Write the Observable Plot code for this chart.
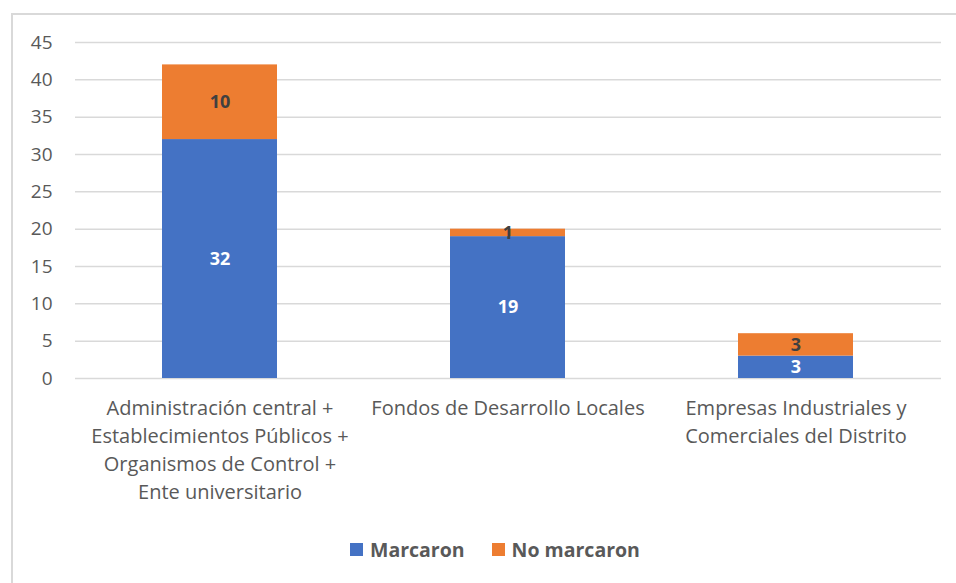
<!DOCTYPE html>
<html><head><meta charset="utf-8">
<script src="https://cdn.jsdelivr.net/npm/d3@7"></script>
<script src="https://cdn.jsdelivr.net/npm/@observablehq/plot@0.6"></script>
<style>
body{margin:0;background:#fff;}
#wrap{position:relative;width:956px;height:583px;overflow:hidden;font-family:"Open Sans",Lato,sans-serif;background:#fff;}
#frame{position:absolute;left:11px;top:13px;width:990px;height:620px;border-top:2px solid #d9d9d9;border-left:2px solid #d9d9d9;pointer-events:none;}
#chart{position:absolute;left:0;top:0;}
#legend{position:absolute;left:350px;top:536px;display:flex;align-items:center;font-weight:bold;font-size:19.5px;color:#595959;}
.sw{display:inline-block;width:13px;height:13px;margin-right:7px;}
.item{display:flex;align-items:center;margin-right:27px;}
</style>
</head><body>
<div id="wrap"><div id="frame"></div><div id="chart"></div><div id="legend"></div></div>
<script>
const categories = ["Administración central + Establecimientos Públicos + Organismos de Control + Ente universitario", "Fondos de Desarrollo Locales", "Empresas Industriales y Comerciales del Distrito"];
const categoryLabels = ["Administración central +\nEstablecimientos Públicos +\nOrganismos de Control +\nEnte universitario", "Fondos de Desarrollo Locales", "Empresas Industriales y\nComerciales del Distrito"];
const series = ["Marcaron", "No marcaron"];
const marcaron = [32, 19, 3];
const noMarcaron = [10, 1, 3];
const yTicks = [0, 5, 10, 15, 20, 25, 30, 35, 40, 45];
const colors = ["#4472c4", "#ed7d31"];
const labelColors = ["#ffffff", "#404040"];

const data = categories.flatMap((c, i) => [
  {cat: c, serie: series[0], value: marcaron[i]},
  {cat: c, serie: series[1], value: noMarcaron[i]}
]);
const labelOf = new Map(categories.map((c, i) => [c, categoryLabels[i]]));
const font = "'Open Sans', Lato, sans-serif";

const chart = Plot.plot({
  width: 956, height: 520,
  marginTop: 42, marginBottom: 142, marginLeft: 75, marginRight: 15,
  style: {fontFamily: font, fontSize: "19px", color: "#595959", background: "transparent"},
  x: {domain: categories, paddingInner: 0.6, paddingOuter: 0.3, label: null},
  y: {domain: [0, 45], label: null},
  color: {domain: series, range: colors},
  marks: [
    Plot.gridY(yTicks, {stroke: "#d9d9d9", strokeOpacity: 1, strokeWidth: 1.5}),
    Plot.axisY(yTicks, {tickSize: 0, tickPadding: 23, fontSize: 19, fill: "#595959", label: null}),
    Plot.barY(data, Plot.stackY({x: "cat", y: "value", fill: "serie", order: series})),
    Plot.text(data, Plot.stackY({x: "cat", y: "value", z: "serie", order: series, text: "value",
      fill: {value: d => labelColors[series.indexOf(d.serie)], scale: null},
      fontWeight: "bold", fontSize: 18})),
    Plot.axisX({tickSize: 0, tickPadding: 17, fontSize: 20, fill: "#595959", lineHeight: 1.4,
      tickFormat: d => labelOf.get(d), label: null, textOverflow: null})
  ]
});
document.getElementById("chart").appendChild(chart);

const legend = document.getElementById("legend");
series.forEach((s, i) => {
  const item = document.createElement("div");
  item.className = "item";
  const sw = document.createElement("span");
  sw.className = "sw";
  sw.style.background = colors[i];
  item.appendChild(sw);
  item.appendChild(document.createTextNode(s));
  legend.appendChild(item);
});
</script>
</body></html>
